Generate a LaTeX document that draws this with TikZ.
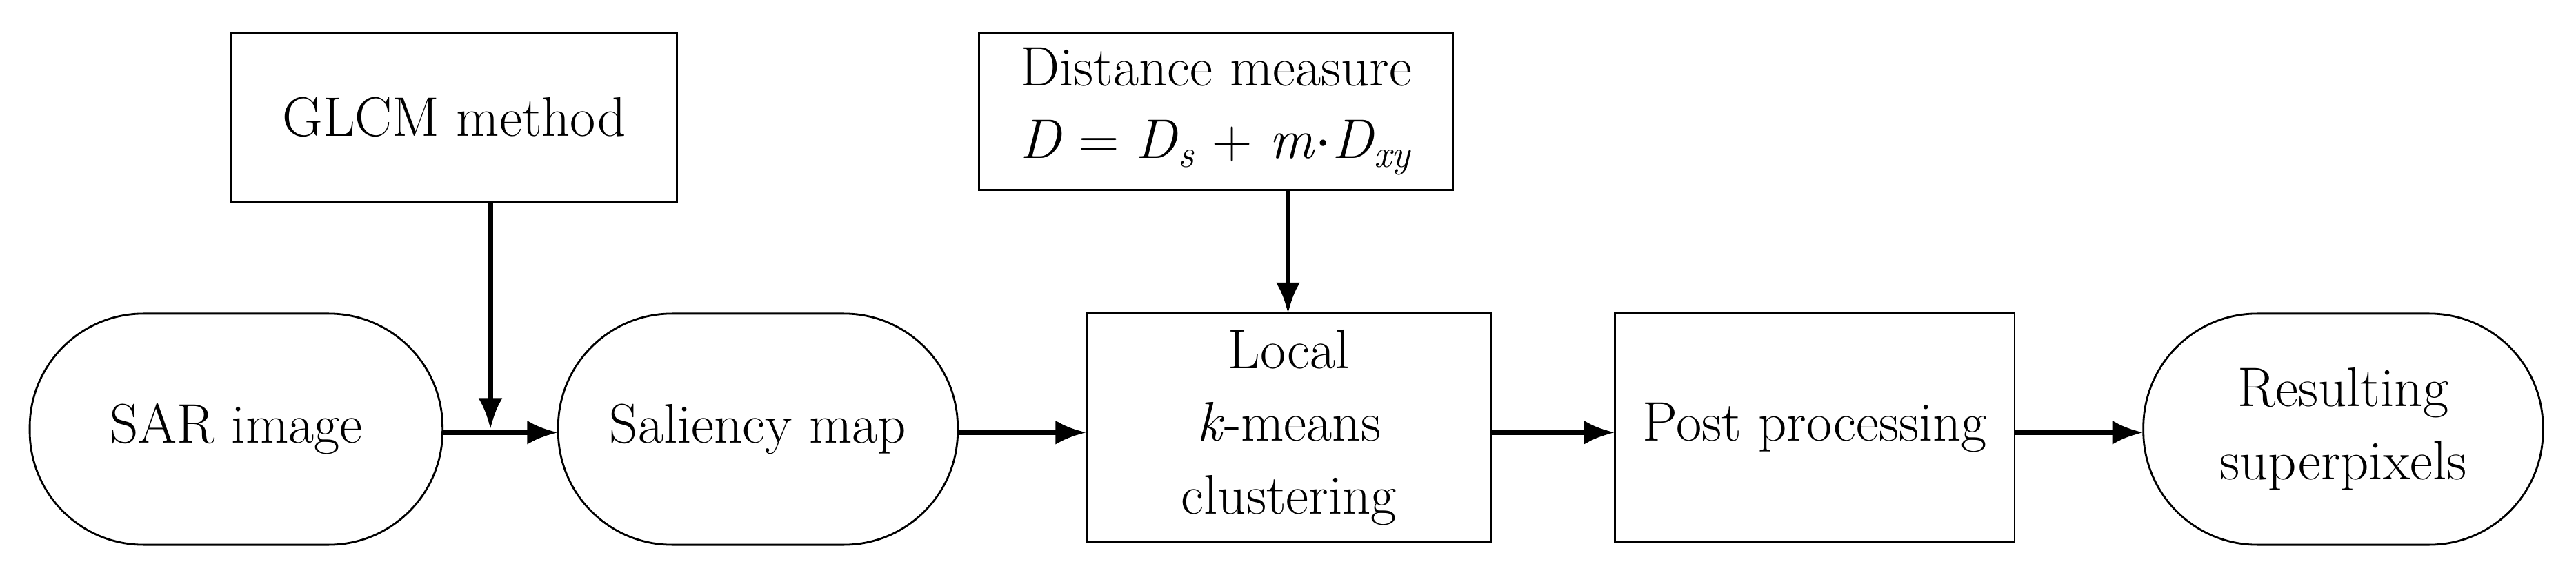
\documentclass[tikz,border=0pt]{standalone}
\usetikzlibrary{arrows.meta}
\begin{document}
\begin{tikzpicture}[x=0.02394cm,y=-0.02394cm,
  box/.style={draw,line width=0.8pt,align=center,font=\fontsize{23}{30}\selectfont,inner sep=0pt},
  arr/.style={-{Latex[length=0.45cm,width=0.35cm]},line width=2.2pt}]
\useasboundingbox (0,0) rectangle (1560,353.4);
\draw[box] (140,20) rectangle (410,122) node[midway] (g) {GLCM method};
\draw[box] (593,20) rectangle (880,115) node[midway] (d) {Distance measure\\ \textit{D} = \textit{D}\textsubscript{\textit{s}} + \textit{m}$\cdot$\textit{D}\textsubscript{\textit{xy}}};
\draw[box,rounded corners=1.65cm] (18,190) rectangle (268,330) node[midway] (s) {SAR image};
\draw[box,rounded corners=1.65cm] (338,190) rectangle (580,330) node[midway] (m) {Saliency map};
\draw[box] (658,190) rectangle (903,328) node[midway] (k) {Local\\ \textit{k}-means\\ clustering};
\draw[box] (978,190) rectangle (1220,328) node[midway] (p) {Post processing};
\draw[box,rounded corners=1.65cm] (1298,190) rectangle (1540,330) node[midway] (r) {Resulting\\ superpixels};
\coordinate (sr) at (268,262); \coordinate (ml) at (338,262);
\coordinate (mr) at (580,262); \coordinate (kl) at (658,262);
\coordinate (kr) at (903,262); \coordinate (pl) at (978,262);
\coordinate (pr) at (1220,262); \coordinate (rl) at (1298,262);
\coordinate (gb) at (297,122); \coordinate (ge) at (297,260);
\coordinate (db) at (780,115); \coordinate (de) at (780,190);
\draw[arr] (sr) -- (ml);
\draw[arr] (mr) -- (kl);
\draw[arr] (kr) -- (pl);
\draw[arr] (pr) -- (rl);
\draw[arr] (gb) -- (ge);
\draw[arr] (db) -- (de);
\end{tikzpicture}
\end{document}
